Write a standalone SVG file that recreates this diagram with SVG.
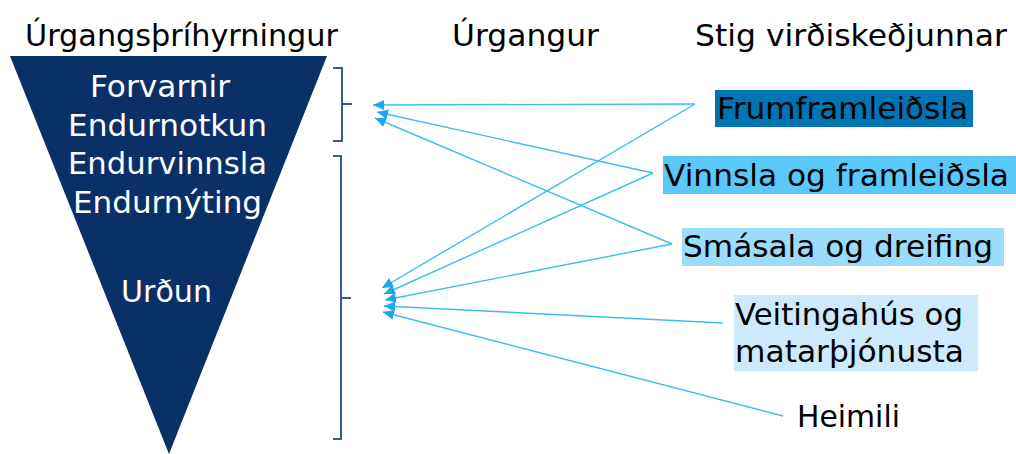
<svg xmlns="http://www.w3.org/2000/svg" width="1016" height="454" viewBox="0 0 1016 454">
  <style>
    text { font-family: "DejaVu Sans", Verdana, sans-serif; font-size: 30px; }
    .hdr { fill: #000; }
    .inv { fill: #fff; text-anchor: middle; }
    .lbl { fill: #000; }
    .brace { fill: none; stroke: #3b5a8e; stroke-width: 2; }
    .link { fill: none; stroke: #3dbdf0; stroke-width: 1.4; marker-end: url(#tip); }
  </style>
  <defs>
    <marker id="tip" markerUnits="userSpaceOnUse" markerWidth="13" markerHeight="11" refX="11" refY="5" orient="auto">
      <path d="M0,0 L11,5 L0,10 z" fill="#1aa8ea"/>
    </marker>
  </defs>
  <rect width="1016" height="454" fill="#fff"/>

  <!-- column headings -->
  <g id="headings">
    <text class="hdr" x="25" y="46" textLength="313" lengthAdjust="spacingAndGlyphs">Úrgangsþríhyrningur</text>
    <text class="hdr" x="452" y="46" textLength="147" lengthAdjust="spacingAndGlyphs">Úrgangur</text>
    <text class="hdr" x="695" y="46" textLength="312" lengthAdjust="spacingAndGlyphs">Stig virðiskeðjunnar</text>
  </g>

  <!-- waste hierarchy triangle -->
  <g id="triangle">
    <polygon points="10,56 327,56 169,454" fill="#0a3068"/>
    <text class="inv" x="160" y="97" textLength="140" lengthAdjust="spacingAndGlyphs">Forvarnir</text>
    <text class="inv" x="167.5" y="136" textLength="199" lengthAdjust="spacingAndGlyphs">Endurnotkun</text>
    <text class="inv" x="167.5" y="174" textLength="199" lengthAdjust="spacingAndGlyphs">Endurvinnsla</text>
    <text class="inv" x="167.5" y="213" textLength="189" lengthAdjust="spacingAndGlyphs">Endurnýting</text>
    <text class="inv" x="166.5" y="302" textLength="91" lengthAdjust="spacingAndGlyphs">Urðun</text>
  </g>

  <!-- brackets grouping the hierarchy levels -->
  <g id="bracket-top">
    <path class="brace" d="M333,68 L342,68 L342,141 L333,141 M342,104 L352,104"/>
  </g>
  <g id="bracket-bottom">
    <path class="brace" d="M333,156 L341,156 L341,439 L333,439 M341,298 L351,298"/>
  </g>

  <!-- value chain stages -->
  <g id="stage-primary">
    <rect x="715" y="90" width="258" height="37" fill="#0075b4"/>
    <text class="lbl" x="717" y="119" textLength="251" lengthAdjust="spacingAndGlyphs">Frumframleiðsla</text>
  </g>
  <g id="stage-processing">
    <rect x="663" y="156" width="353" height="38" fill="#5bc8fa"/>
    <text class="lbl" x="664" y="186" textLength="345" lengthAdjust="spacingAndGlyphs">Vinnsla og framleiðsla</text>
  </g>
  <g id="stage-retail">
    <rect x="682" y="228" width="322" height="38" fill="#99dcfb"/>
    <text class="lbl" x="683" y="257" textLength="310" lengthAdjust="spacingAndGlyphs">Smásala og dreifing</text>
  </g>
  <g id="stage-food-service">
    <rect x="734" y="295" width="244" height="76" fill="#cdeafd"/>
    <text class="lbl" x="735" y="325" textLength="228" lengthAdjust="spacingAndGlyphs">Veitingahús og</text>
    <text class="lbl" x="735" y="362" textLength="229" lengthAdjust="spacingAndGlyphs">matarþjónusta</text>
  </g>
  <g id="stage-households">
    <text class="lbl" x="797" y="427" textLength="103" lengthAdjust="spacingAndGlyphs">Heimili</text>
  </g>

  <!-- connectors: each stage to the hierarchy levels -->
  <g id="connectors">
    <line class="link" x1="695" y1="104" x2="373" y2="105"/>
    <line class="link" x1="653" y1="173" x2="377" y2="112"/>
    <line class="link" x1="672" y1="244" x2="375" y2="118"/>
    <line class="link" x1="695" y1="104" x2="382" y2="288"/>
    <line class="link" x1="653" y1="173" x2="384" y2="294"/>
    <line class="link" x1="672" y1="244" x2="385" y2="300"/>
    <line class="link" x1="723" y1="323" x2="384" y2="306"/>
    <line class="link" x1="783" y1="416" x2="383" y2="312"/>
  </g>
</svg>
